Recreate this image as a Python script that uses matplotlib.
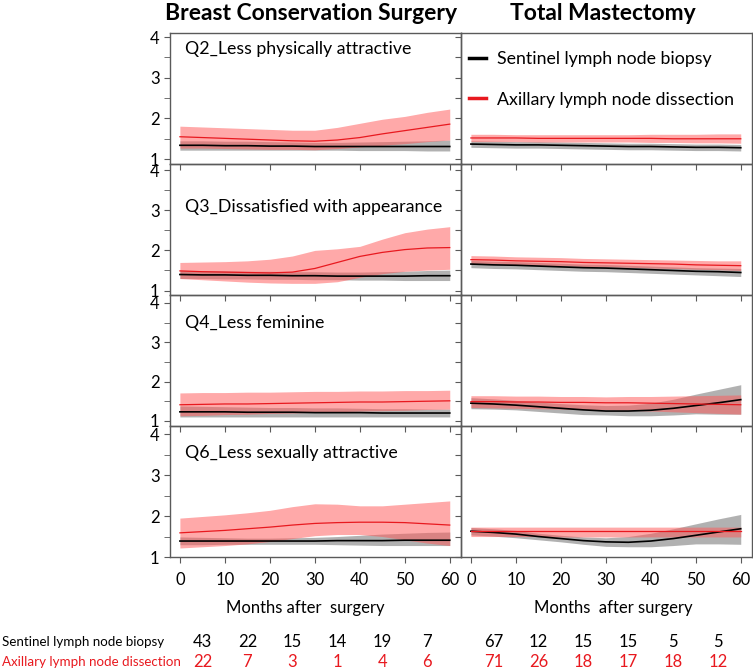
import numpy as np
import matplotlib
matplotlib.use("Agg")
import matplotlib.pyplot as plt
from matplotlib.lines import Line2D
from matplotlib.transforms import blended_transform_factory

plt.rcParams['font.family'] = ['Lato', 'DejaVu Sans']

# months after surgery at which the fitted curves were read
months = [0, 5, 10, 15, 20, 25, 30, 35, 40, 45, 50, 55, 60]

# --- Q2 Less physically attractive ---
q2_bcs_slnb = [1.34, 1.34, 1.33, 1.33, 1.32, 1.32, 1.31, 1.31, 1.31, 1.31, 1.31, 1.31, 1.31]
q2_bcs_slnb_lo = [1.22, 1.22, 1.22, 1.22, 1.22, 1.22, 1.22, 1.22, 1.21, 1.21, 1.21, 1.20, 1.20]
q2_bcs_slnb_hi = [1.45, 1.45, 1.44, 1.44, 1.43, 1.42, 1.41, 1.41, 1.42, 1.43, 1.44, 1.45, 1.47]
q2_bcs_alnd = [1.55, 1.53, 1.51, 1.49, 1.47, 1.45, 1.44, 1.47, 1.53, 1.62, 1.70, 1.78, 1.86]
q2_bcs_alnd_lo = [1.27, 1.27, 1.26, 1.25, 1.24, 1.24, 1.23, 1.26, 1.30, 1.34, 1.38, 1.43, 1.47]
q2_bcs_alnd_hi = [1.81, 1.79, 1.77, 1.75, 1.73, 1.71, 1.71, 1.78, 1.88, 1.98, 2.05, 2.15, 2.23]

q2_tm_slnb = [1.37, 1.36, 1.35, 1.35, 1.34, 1.33, 1.32, 1.31, 1.31, 1.30, 1.29, 1.29, 1.28]
q2_tm_slnb_lo = [1.29, 1.28, 1.27, 1.27, 1.26, 1.25, 1.24, 1.23, 1.23, 1.22, 1.21, 1.21, 1.20]
q2_tm_slnb_hi = [1.45, 1.44, 1.43, 1.43, 1.42, 1.41, 1.40, 1.39, 1.39, 1.38, 1.37, 1.37, 1.36]
q2_tm_alnd = [1.52, 1.52, 1.52, 1.51, 1.51, 1.51, 1.51, 1.51, 1.51, 1.50, 1.50, 1.50, 1.50]
q2_tm_alnd_lo = [1.43, 1.43, 1.43, 1.42, 1.42, 1.42, 1.42, 1.42, 1.41, 1.41, 1.40, 1.40, 1.39]
q2_tm_alnd_hi = [1.61, 1.61, 1.60, 1.60, 1.60, 1.60, 1.60, 1.60, 1.61, 1.61, 1.61, 1.62, 1.62]

# --- Q3 Dissatisfied with appearance ---
q3_bcs_slnb = [1.40, 1.39, 1.39, 1.38, 1.38, 1.37, 1.37, 1.36, 1.36, 1.36, 1.36, 1.37, 1.37]
q3_bcs_slnb_lo = [1.30, 1.30, 1.29, 1.29, 1.28, 1.28, 1.27, 1.27, 1.26, 1.26, 1.25, 1.25, 1.25]
q3_bcs_slnb_hi = [1.50, 1.49, 1.49, 1.48, 1.48, 1.47, 1.47, 1.46, 1.46, 1.47, 1.48, 1.50, 1.51]
q3_bcs_alnd = [1.49, 1.47, 1.46, 1.45, 1.44, 1.46, 1.55, 1.70, 1.85, 1.95, 2.02, 2.06, 2.07]
q3_bcs_alnd_lo = [1.30, 1.27, 1.24, 1.21, 1.19, 1.18, 1.18, 1.22, 1.33, 1.42, 1.48, 1.51, 1.53]
q3_bcs_alnd_hi = [1.70, 1.71, 1.72, 1.74, 1.78, 1.86, 2.00, 2.04, 2.10, 2.28, 2.44, 2.53, 2.59]

q3_tm_slnb = [1.66, 1.64, 1.63, 1.61, 1.59, 1.57, 1.56, 1.54, 1.52, 1.50, 1.48, 1.47, 1.45]
q3_tm_slnb_lo = [1.57, 1.55, 1.54, 1.52, 1.50, 1.48, 1.47, 1.45, 1.43, 1.41, 1.39, 1.37, 1.35]
q3_tm_slnb_hi = [1.75, 1.73, 1.72, 1.70, 1.68, 1.66, 1.65, 1.63, 1.61, 1.59, 1.57, 1.56, 1.55]
q3_tm_alnd = [1.77, 1.76, 1.74, 1.73, 1.72, 1.70, 1.69, 1.68, 1.67, 1.66, 1.64, 1.63, 1.62]
q3_tm_alnd_lo = [1.67, 1.66, 1.64, 1.63, 1.62, 1.60, 1.59, 1.58, 1.56, 1.55, 1.53, 1.52, 1.50]
q3_tm_alnd_hi = [1.87, 1.86, 1.84, 1.83, 1.82, 1.80, 1.79, 1.78, 1.77, 1.76, 1.75, 1.74, 1.74]

# --- Q4 Less feminine ---
q4_bcs_slnb = [1.23, 1.23, 1.23, 1.22, 1.22, 1.22, 1.21, 1.21, 1.21, 1.20, 1.20, 1.20, 1.20]
q4_bcs_slnb_lo = [1.10, 1.10, 1.10, 1.10, 1.10, 1.10, 1.10, 1.10, 1.10, 1.10, 1.10, 1.10, 1.10]
q4_bcs_slnb_hi = [1.38, 1.37, 1.36, 1.35, 1.34, 1.34, 1.33, 1.33, 1.32, 1.31, 1.31, 1.30, 1.30]
q4_bcs_alnd = [1.41, 1.42, 1.43, 1.43, 1.44, 1.45, 1.46, 1.47, 1.48, 1.48, 1.49, 1.50, 1.51]
q4_bcs_alnd_lo = [1.13, 1.14, 1.16, 1.17, 1.19, 1.20, 1.22, 1.23, 1.25, 1.26, 1.27, 1.29, 1.30]
q4_bcs_alnd_hi = [1.71, 1.72, 1.72, 1.73, 1.73, 1.74, 1.75, 1.75, 1.76, 1.76, 1.77, 1.77, 1.78]

q4_tm_slnb = [1.45, 1.43, 1.40, 1.36, 1.32, 1.28, 1.25, 1.25, 1.27, 1.32, 1.39, 1.46, 1.54]
q4_tm_slnb_lo = [1.31, 1.30, 1.28, 1.24, 1.20, 1.16, 1.15, 1.13, 1.13, 1.15, 1.18, 1.17, 1.17]
q4_tm_slnb_hi = [1.59, 1.56, 1.52, 1.48, 1.44, 1.41, 1.39, 1.40, 1.45, 1.55, 1.68, 1.80, 1.92]
q4_tm_alnd = [1.49, 1.49, 1.48, 1.48, 1.47, 1.47, 1.46, 1.46, 1.45, 1.44, 1.43, 1.42, 1.41]
q4_tm_alnd_lo = [1.34, 1.33, 1.32, 1.31, 1.30, 1.29, 1.28, 1.27, 1.25, 1.23, 1.21, 1.19, 1.17]
q4_tm_alnd_hi = [1.64, 1.64, 1.63, 1.63, 1.62, 1.62, 1.61, 1.62, 1.62, 1.63, 1.64, 1.65, 1.66]

# --- Q6 Less sexually attractive ---
q6_bcs_slnb = [1.39, 1.39, 1.39, 1.39, 1.39, 1.39, 1.39, 1.40, 1.40, 1.40, 1.41, 1.41, 1.41]
q6_bcs_slnb_lo = [1.30, 1.30, 1.31, 1.31, 1.31, 1.31, 1.31, 1.30, 1.29, 1.28, 1.28, 1.28, 1.28]
q6_bcs_slnb_hi = [1.49, 1.48, 1.47, 1.46, 1.46, 1.47, 1.48, 1.50, 1.53, 1.56, 1.58, 1.60, 1.61]
q6_bcs_alnd = [1.59, 1.62, 1.65, 1.69, 1.73, 1.78, 1.82, 1.84, 1.85, 1.85, 1.84, 1.81, 1.78]
q6_bcs_alnd_lo = [1.22, 1.25, 1.28, 1.32, 1.38, 1.45, 1.52, 1.55, 1.55, 1.50, 1.42, 1.34, 1.28]
q6_bcs_alnd_hi = [1.95, 1.99, 2.03, 2.08, 2.14, 2.23, 2.30, 2.29, 2.25, 2.25, 2.29, 2.33, 2.37]

q6_tm_slnb = [1.63, 1.60, 1.56, 1.50, 1.45, 1.40, 1.37, 1.36, 1.39, 1.45, 1.53, 1.61, 1.69]
q6_tm_slnb_lo = [1.54, 1.51, 1.47, 1.42, 1.37, 1.31, 1.26, 1.25, 1.25, 1.28, 1.32, 1.32, 1.31]
q6_tm_slnb_hi = [1.72, 1.69, 1.65, 1.58, 1.53, 1.49, 1.47, 1.50, 1.58, 1.69, 1.81, 1.93, 2.04]
q6_tm_alnd = [1.63, 1.63, 1.63, 1.63, 1.63, 1.63, 1.63, 1.63, 1.63, 1.63, 1.63, 1.63, 1.63]
q6_tm_alnd_lo = [1.50, 1.50, 1.50, 1.50, 1.49, 1.49, 1.49, 1.49, 1.49, 1.49, 1.49, 1.49, 1.49]
q6_tm_alnd_hi = [1.73, 1.73, 1.73, 1.73, 1.73, 1.73, 1.73, 1.73, 1.73, 1.73, 1.73, 1.73, 1.73]

questions = ["Q2_Less physically attractive", "Q3_Dissatisfied with appearance",
             "Q4_Less feminine", "Q6_Less sexually attractive"]
column_titles = ["Breast Conservation Surgery", "Total Mastectomy"]
group_labels = ["Sentinel lymph node biopsy", "Axillary lymph node dissection"]

# numbers at risk per 10-month interval
interval_mid = [5, 15, 25, 35, 45, 55]
bcs_slnb_n = [43, 22, 15, 14, 19, 7]
bcs_alnd_n = [22, 7, 3, 1, 4, 6]
tm_slnb_n = [67, 12, 15, 15, 5, 5]
tm_alnd_n = [71, 26, 18, 17, 18, 12]

panels = [
    [(q2_bcs_slnb, q2_bcs_slnb_lo, q2_bcs_slnb_hi, q2_bcs_alnd, q2_bcs_alnd_lo, q2_bcs_alnd_hi),
     (q2_tm_slnb, q2_tm_slnb_lo, q2_tm_slnb_hi, q2_tm_alnd, q2_tm_alnd_lo, q2_tm_alnd_hi)],
    [(q3_bcs_slnb, q3_bcs_slnb_lo, q3_bcs_slnb_hi, q3_bcs_alnd, q3_bcs_alnd_lo, q3_bcs_alnd_hi),
     (q3_tm_slnb, q3_tm_slnb_lo, q3_tm_slnb_hi, q3_tm_alnd, q3_tm_alnd_lo, q3_tm_alnd_hi)],
    [(q4_bcs_slnb, q4_bcs_slnb_lo, q4_bcs_slnb_hi, q4_bcs_alnd, q4_bcs_alnd_lo, q4_bcs_alnd_hi),
     (q4_tm_slnb, q4_tm_slnb_lo, q4_tm_slnb_hi, q4_tm_alnd, q4_tm_alnd_lo, q4_tm_alnd_hi)],
    [(q6_bcs_slnb, q6_bcs_slnb_lo, q6_bcs_slnb_hi, q6_bcs_alnd, q6_bcs_alnd_lo, q6_bcs_alnd_hi),
     (q6_tm_slnb, q6_tm_slnb_lo, q6_tm_slnb_hi, q6_tm_alnd, q6_tm_alnd_lo, q6_tm_alnd_hi)],
]

RED = '#e8191f'
SPINE = '#5a5a5a'
W, H = 753, 670
fig = plt.figure(figsize=(W / 100, H / 100), dpi=100)

col_left = [170, 461]
col_width = 291
row_top = 33
row_h = 131
row_ylims = [(0.88, 4.1), (0.89, 4.15), (0.87, 4.2), (1.0, 4.2)]
label_y = [0.878, 0.674, 0.786, 0.796]

axes = [[None, None] for _ in range(4)]
for r in range(4):
    for c in range(2):
        top = row_top + r * row_h
        ax = fig.add_axes([col_left[c] / W, 1 - (top + row_h) / H, col_width / W, row_h / H])
        ax.set_facecolor('none')
        s, s_lo, s_hi, a, a_lo, a_hi = panels[r][c]
        ax.fill_between(months, s_lo, s_hi, color='#7a7a7a', alpha=0.58, lw=0)
        ax.plot(months, s, color='black', lw=1.2)
        ax.fill_between(months, a_lo, a_hi, color='#ff5a5a', alpha=0.52, lw=0)
        ax.plot(months, a, color=RED, lw=0.9)
        ax.set_xlim(-2.2, 62.5)
        ax.set_ylim(*row_ylims[r])
        ax.set_xticks(range(0, 61, 10))
        for sp in ax.spines.values():
            sp.set_color(SPINE)
            sp.set_linewidth(1)
        ax.tick_params(length=4, color=SPINE, labelsize=12, direction='out')
        ax.tick_params(which='minor', length=4, color=SPINE)
        if c == 0:
            ax.set_yticks([1, 2, 3, 4])
            ax.set_yticks([1.5, 2.5, 3.5], minor=True)
            ax.text(0.052, label_y[r], questions[r], transform=ax.transAxes,
                    fontsize=12.8, va='center', ha='left')
        else:
            ax.set_yticks(np.arange(1, 4.01, 0.5))
            ax.set_yticklabels([])
        if r < 3:
            ax.set_xticklabels([])
        else:
            ax.tick_params(axis='x', pad=7)
        axes[r][c] = ax

# legend in the top right panel
handles = [Line2D([], [], color='black', lw=2.5), Line2D([], [], color=RED, lw=2.5)]
axes[0][1].legend(handles, group_labels, loc='upper left', bbox_to_anchor=(-0.035, 1.0),
                  frameon=False, fontsize=12.8, handlelength=1.0, handletextpad=0.6,
                  labelspacing=1.4, borderaxespad=0.6)

# column titles and axis labels
for c in range(2):
    cx = (col_left[c] + col_width / 2) / W
    fig.text(cx - 4 / W, 1 - 13 / H, column_titles[c], ha='center', va='center',
             fontsize=16.5, fontweight='bold')
fig.text(305 / W, 1 - 608 / H, "Months after  surgery", ha='center', va='center', fontsize=12)
fig.text(613 / W, 1 - 608 / H, "Months  after surgery", ha='center', va='center', fontsize=12)

# numbers at risk table
fig.text(2 / W, 1 - 642 / H, group_labels[0], ha='left', va='center', fontsize=9.6)
fig.text(2 / W, 1 - 662 / H, group_labels[1], ha='left', va='center', fontsize=9.6, color=RED)
for c, (n_s, n_a) in enumerate([(bcs_slnb_n, bcs_alnd_n), (tm_slnb_n, tm_alnd_n)]):
    trans = blended_transform_factory(axes[3][c].transData, fig.transFigure)
    for x, ns, na in zip(interval_mid, n_s, n_a):
        fig.text(x, 1 - 642 / H, str(ns), transform=trans, ha='center', va='center', fontsize=12)
        fig.text(x, 1 - 662 / H, str(na), transform=trans, ha='center', va='center',
                 fontsize=12, color=RED)

fig.savefig('out.png', dpi=100)
